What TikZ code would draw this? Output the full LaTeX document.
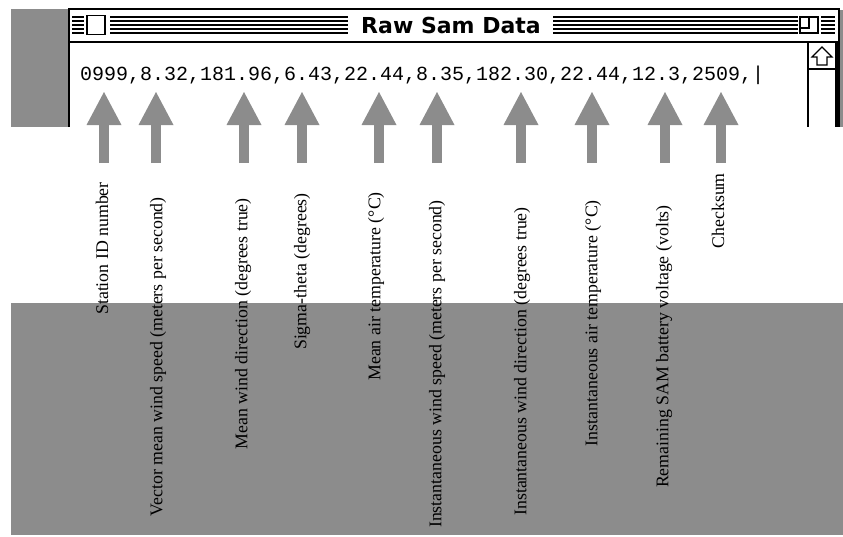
\documentclass[tikz,border=0pt]{standalone}
\usepackage{fontspec}
\setmainfont{Liberation Serif}
\newfontfamily\monacofont{Liberation Mono}
\newfontfamily\chicagofont{DejaVu Sans}
\usetikzlibrary{arrows.meta,positioning}
\definecolor{dither}{RGB}{140,140,140}

\begin{document}
\begin{tikzpicture}[
  x=1pt, y=-1pt,
  frame/.style={draw=black, line width=2pt},
  stripe/.style={draw=black, line width=1.4pt},
  field/.style={rotate=90, anchor=east, inner sep=0pt,
                font=\fontsize{17.8}{20}\selectfont},
  every edge/.style={draw=dither, line width=10pt,
                     -{Triangle[width=35pt,length=33pt,line width=0pt]}}
]
\useasboundingbox (0,0) rectangle (843,536);

% desktop grey around the window
\fill[dither] (11,9) rectangle (68,127);
\fill[dither] (840,10) rectangle (843,127);
\fill[dither] (11,303) rectangle (843,535);

% window frame and title bar
\draw[frame] (69,127) -- (69,9) -- (839,9) -- (839,127);
\draw[line width=1.5pt] (69,42) -- (839,42);
\draw[stripe] (72,17) -- (84,17) (110,17) -- (348,17) (553,17) -- (798,17) (821,17) -- (835,17);
\draw[stripe] (72,21) -- (84,21) (110,21) -- (348,21) (553,21) -- (798,21) (821,21) -- (835,21);
\draw[stripe] (72,25) -- (84,25) (110,25) -- (348,25) (553,25) -- (798,25) (821,25) -- (835,25);
\draw[stripe] (72,29) -- (84,29) (110,29) -- (348,29) (553,29) -- (798,29) (821,29) -- (835,29);
\draw[stripe] (72,33) -- (84,33) (110,33) -- (348,33) (553,33) -- (798,33) (821,33) -- (835,33);
\node[draw, line width=1.5pt, fill=white, minimum width=18pt, minimum height=19pt,
      inner sep=0pt] (closebox) at (96,25) {};
\node[draw, line width=1.5pt, fill=white, minimum width=18pt, minimum height=16pt,
      inner sep=0pt] (zoombox) at (809,25) {};
\draw[line width=1.5pt] (zoombox.west) ++(0,3) -| (zoombox.north);
\node[anchor=base, inner sep=0pt, font=\chicagofont\bfseries\fontsize{22}{24}\selectfont]
  (title) at (451,33) {Raw Sam Data};

% scroll bar
\draw[line width=1.5pt] (808,42) -- (808,127);
\draw[line width=1.5pt] (808,69) -- (836,69);
\fill (835,42) rectangle (840,127);
\draw[line width=1.2pt, line join=miter]
  (822,47) -- (832,57) -- (827,57) -- (827,65) -- (817,65) -- (817,57) -- (812,57) -- cycle;

% the record
\node[anchor=base west, inner sep=0pt, font=\monacofont\fontsize{20}{22}\selectfont]
  (record) at (80,80) {0999,8.32,181.96,6.43,22.44,8.35,182.30,22.44,12.3,2509,|};

% arrow ends
\coordinate (idtip) at (104,92);     \coordinate (idfoot) at (104,163);
\coordinate (vspdtip) at (156,92);   \coordinate (vspdfoot) at (156,163);
\coordinate (mdirtip) at (244,92);   \coordinate (mdirfoot) at (244,163);
\coordinate (sigtip) at (302,92);    \coordinate (sigfoot) at (302,163);
\coordinate (mtmptip) at (379,92);   \coordinate (mtmpfoot) at (379,163);
\coordinate (ispdtip) at (437,92);   \coordinate (ispdfoot) at (437,163);
\coordinate (idirtip) at (521,92);   \coordinate (idirfoot) at (521,163);
\coordinate (itmptip) at (592,92);   \coordinate (itmpfoot) at (592,163);
\coordinate (batttip) at (665,92);   \coordinate (battfoot) at (665,163);
\coordinate (sumtip) at (721,92);    \coordinate (sumfoot) at (721,163);

\path (idfoot) edge (idtip)
      (vspdfoot) edge (vspdtip)
      (mdirfoot) edge (mdirtip)
      (sigfoot) edge (sigtip)
      (mtmpfoot) edge (mtmptip)
      (ispdfoot) edge (ispdtip)
      (idirfoot) edge (idirtip)
      (itmpfoot) edge (itmptip)
      (battfoot) edge (batttip)
      (sumfoot) edge (sumtip);

% field labels
\node[field] (idlbl) at (102,182) {Station ID number};
\node[field] (vspdlbl) at (158,197) {Vector mean wind speed (meters per second)};
\node[field] (mdirlbl) at (243,198) {Mean wind direction (degrees true)};
\node[field] (siglbl) at (302,193) {Sigma-theta (degrees)};
\node[field] (mtmplbl) at (376,192) {Mean air temperature (°C)};
\node[field] (ispdlbl) at (437,200) {Instantaneous wind speed (meters per second)};
\node[field] (idirlbl) at (522,207) {Instantaneous wind direction (degrees true)};
\node[field] (itmplbl) at (593,200) {Instantaneous air temperature (°C)};
\node[field] (battlbl) at (664,205) {Remaining SAM battery voltage (volts)};
\node[field] (sumlbl) at (718,173) {Checksum};
\end{tikzpicture}
\end{document}
